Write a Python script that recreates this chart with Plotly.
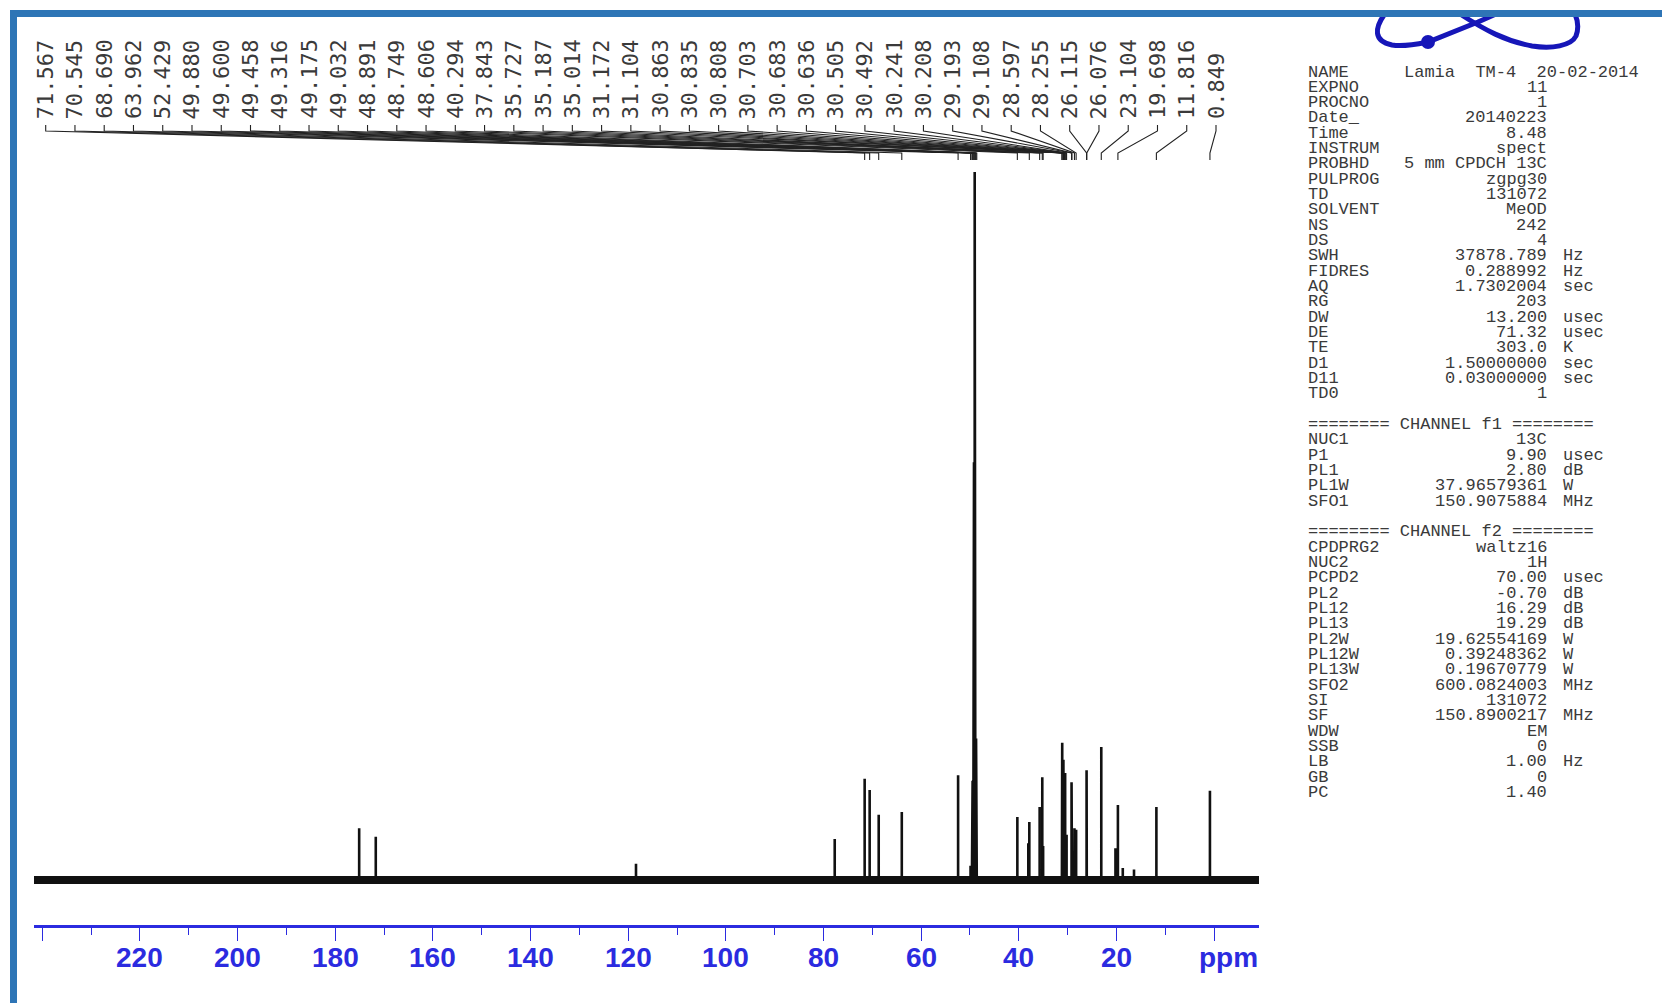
import numpy as np
import plotly.graph_objects as go

# ---------------- data ----------------
# chemical shifts (ppm) of all visible lines and their heights (% of tallest line)
peak_ppm = [175.1, 171.7, 118.4, 77.7, 71.567, 70.545, 68.690, 63.962, 52.429,
            49.880, 49.600, 49.458, 49.316, 49.175, 49.032, 48.891, 48.749, 48.606,
            40.294, 38.05, 37.843, 35.727, 35.187, 35.014,
            31.172, 31.104, 30.863, 30.835, 30.808, 30.703, 30.683, 30.636,
            30.505, 30.492, 30.241, 30.208, 29.193, 29.108, 28.597, 28.255,
            26.115, 26.076, 23.104, 20.2, 19.698, 18.7, 16.4, 11.816, 0.849]
peak_int = [7.3, 6.1, 2.3, 5.8, 14.3, 12.7, 9.2, 9.6, 14.8,
            2.0, 2.5, 14.0, 32.0, 59.0, 100.0, 41.0, 20.0, 8.0,
            8.9, 5.2, 8.2, 10.3, 14.5, 4.8,
            8.5, 19.4, 17.0, 15.5, 12.7, 9.9, 8.5, 7.8,
            15.1, 13.4, 5.2, 6.4, 13.8, 8.5, 7.3, 7.1,
            15.5, 11.3, 18.8, 4.5, 10.6, 1.7, 1.5, 10.3, 12.6]

# peak-pick labels printed above the spectrum
label_text = ["71.567", "70.545", "68.690", "63.962", "52.429", "49.880", "49.600",
              "49.458", "49.316", "49.175", "49.032", "48.891", "48.749", "48.606",
              "40.294", "37.843", "35.727", "35.187", "35.014", "31.172", "31.104",
              "30.863", "30.835", "30.808", "30.703", "30.683", "30.636", "30.505",
              "30.492", "30.241", "30.208", "29.193", "29.108", "28.597", "28.255",
              "26.115", "26.076", "23.104", "19.698", "11.816", "0.849"]

# x axis ticks
tick_major = [0, 20, 40, 60, 80, 100, 120, 140, 160, 180, 200, 220, 240]
tick_labels = ["ppm", "20", "40", "60", "80", "100", "120", "140", "160", "180", "200", "220", ""]

# acquisition parameter block
param_names = ["NAME", "EXPNO", "PROCNO", "Date_", "Time", "INSTRUM", "PROBHD", "PULPROG",
               "TD", "SOLVENT", "NS", "DS", "SWH", "FIDRES", "AQ", "RG", "DW", "DE", "TE",
               "D1", "D11", "TD0", "",
               "======== CHANNEL f1 ========", "NUC1", "P1", "PL1", "PL1W", "SFO1", "",
               "======== CHANNEL f2 ========", "CPDPRG2", "NUC2", "PCPD2", "PL2", "PL12",
               "PL13", "PL2W", "PL12W", "PL13W", "SFO2", "SI", "SF", "WDW", "SSB", "LB",
               "GB", "PC"]
param_values = ["", "11", "1", "20140223", "8.48", "spect", "5 mm CPDCH 13C", "zgpg30",
                "131072", "MeOD", "242", "4", "37878.789", "0.288992", "1.7302004", "203",
                "13.200", "71.32", "303.0", "1.50000000", "0.03000000", "1", "",
                "", "13C", "9.90", "2.80", "37.96579361", "150.9075884", "",
                "", "waltz16", "1H", "70.00", "-0.70", "16.29", "19.29", "19.62554169",
                "0.39248362", "0.19670779", "600.0824003", "131072", "150.8900217", "EM",
                "0", "1.00", "0", "1.40"]
param_units = ["", "", "", "", "", "", "", "", "", "", "", "", "Hz", "Hz", "sec", "",
               "usec", "usec", "K", "sec", "sec", "", "",
               "", "", "usec", "dB", "W", "MHz", "",
               "", "", "", "usec", "dB", "dB", "dB", "W", "W", "W", "MHz", "", "MHz",
               "", "", "Hz", "", ""]
name_value = "Lamia  TM-4  20-02-2014"

# ---------------- geometry helpers (page pixels) ----------------
OFF = 8                         # default page margin of the html body
PW, PH = 1670, 1003
FW, FH = PW - OFF, PH - OFF     # figure size
X_L, X_R = 34, 1259             # page-pixel ends of ppm axis
PPM_L, PPM_R = 241.7, -9.2
BASE_PX, TOP_PX, AXIS_PX = 880, 172, 925
per_px = 100.0 / (BASE_PX - TOP_PX)
y_lo = -(AXIS_PX - BASE_PX) * per_px
y_hi = (BASE_PX - OFF) * per_px


def px2ppm(px):
    return PPM_L + (px - X_L) * (PPM_R - PPM_L) / (X_R - X_L)


def py2y(py):
    return (BASE_PX - py) * per_px


def pxp(px):
    return (px - OFF) / FW


def pyp(py):
    return 1 - (py - OFF) / FH


BLUE = "#2B2BE0"
FRAME = "#2E75B6"
TXT = "#3a3a3a"

fig = go.Figure()

# baseline noise band
fig.add_trace(go.Scatter(x=[PPM_L, PPM_R], y=[0, 0], mode="lines",
                         line=dict(color="#111111", width=8), hoverinfo="skip"))

# spectrum lines
order = np.argsort(peak_ppm)[::-1]
sx, sy = [PPM_L], [0]
for i in order:
    p, h = peak_ppm[i], peak_int[i]
    sx += [p, p, p]
    sy += [0, h, 0]
sx.append(PPM_R)
sy.append(0)
fig.add_trace(go.Scatter(x=sx, y=sy, mode="lines",
                         line=dict(color="#111111", width=2.6), hoverinfo="skip"))

# peak-label leader lines
n_lab = len(label_text)
lab_px = np.linspace(45.7, 1216.0, n_lab)
lab_ppm = [px2ppm(p) for p in lab_px]
lx, ly = [], []
for lp, t in zip(lab_ppm, label_text):
    pk = float(t)
    lx += [lp, lp, pk, pk, None]
    ly += [py2y(125), py2y(131), py2y(153), py2y(160), None]
fig.add_trace(go.Scatter(x=lx, y=ly, mode="lines",
                         line=dict(color="#222222", width=1.1), hoverinfo="skip"))

annotations = []
for lp, t in zip(lab_ppm, label_text):
    annotations.append(dict(x=lp, xref="x", y=pyp(121), yref="paper",
                            text=t, showarrow=False, textangle=-90,
                            xanchor="center", yanchor="bottom",
                            font=dict(family="DejaVu Sans Mono", size=22, color=TXT)))

# axis numbers (and "ppm" at the 0 position)
for tv, tl in zip(tick_major, tick_labels):
    if not tl:
        continue
    annotations.append(dict(x=tv, xref="x", xshift=14 if tl == "ppm" else 0,
                            y=pyp(957), yref="paper", text=tl, showarrow=False,
                            xanchor="center", yanchor="middle",
                            font=dict(family="Liberation Sans", size=28, color=BLUE,
                                      weight="bold")))

# parameter block
pf = dict(family="Liberation Mono", size=17, color=TXT)
ROW0, DROW = 72, 15.33
for k, (nm, val, un) in enumerate(zip(param_names, param_values, param_units)):
    yy = pyp(ROW0 + DROW * k)
    if nm:
        annotations.append(dict(x=pxp(1306), xref="paper", y=yy, yref="paper",
                                text=nm, showarrow=False, xanchor="left",
                                yanchor="middle", font=pf))
    if val:
        annotations.append(dict(x=pxp(1549), xref="paper", y=yy, yref="paper",
                                text=val, showarrow=False, xanchor="right",
                                yanchor="middle", font=pf))
    if un:
        annotations.append(dict(x=pxp(1561), xref="paper", y=yy, yref="paper",
                                text=un, showarrow=False, xanchor="left",
                                yanchor="middle", font=pf))
annotations.append(dict(x=pxp(1402), xref="paper", y=pyp(ROW0), yref="paper",
                        text=name_value, showarrow=False, xanchor="left",
                        yanchor="middle", font=pf))


def ppath(pts):
    s = ""
    for cmd, coords in pts:
        s += cmd + " " + " ".join(f"{pxp(a):.5f},{pyp(b):.5f}" for a, b in coords) + " "
    return s.strip()


LOGO = "#1616B8"
shapes = [
    dict(type="path", xref="paper", yref="paper", line=dict(color=LOGO, width=5),
         path=ppath([("M", [(1384, 15)]),
                     ("C", [(1375, 28), (1373, 41), (1392, 45)]),
                     ("C", [(1404, 47), (1418, 44), (1428, 42)]),
                     ("L", [(1478, 22)]), ("L", [(1496, 14)])])),
    dict(type="path", xref="paper", yref="paper", line=dict(color=LOGO, width=5),
         path=ppath([("M", [(1460, 14)]),
                     ("C", [(1485, 30), (1505, 41), (1532, 46)]),
                     ("C", [(1552, 49), (1571, 46), (1576, 36)]),
                     ("C", [(1579, 28), (1578, 21), (1575, 14)])])),
    dict(type="circle", xref="paper", yref="paper", fillcolor=LOGO,
         line=dict(color=LOGO, width=0),
         x0=pxp(1421), x1=pxp(1435), y0=pyp(35), y1=pyp(49)),
    # page frame
    dict(type="rect", xref="paper", yref="paper", fillcolor=FRAME, line=dict(width=0),
         x0=pxp(10), x1=1, y0=pyp(17), y1=pyp(10)),
    dict(type="rect", xref="paper", yref="paper", fillcolor=FRAME, line=dict(width=0),
         x0=pxp(10), x1=pxp(17), y0=0, y1=pyp(10)),
]

fig.update_layout(
    width=FW, height=FH, margin=dict(l=0, r=0, t=0, b=0),
    paper_bgcolor="white", plot_bgcolor="white", showlegend=False,
    xaxis=dict(domain=[pxp(X_L), pxp(X_R)], range=[PPM_L, PPM_R],
               showgrid=False, zeroline=False, showline=True, linecolor=BLUE,
               linewidth=3, ticks="outside", ticklen=13, tickwidth=1.4,
               tickcolor=BLUE, tickmode="array", tickvals=tick_major,
               showticklabels=False,
               minor=dict(dtick=10, tick0=0, ticks="outside", ticklen=7,
                          tickwidth=1.4, tickcolor=BLUE, showgrid=False)),
    yaxis=dict(domain=[pyp(AXIS_PX), 1], range=[y_lo, y_hi], visible=False,
               showgrid=False, zeroline=False),
    annotations=annotations, shapes=shapes,
)

fig.write_html("out.html")
